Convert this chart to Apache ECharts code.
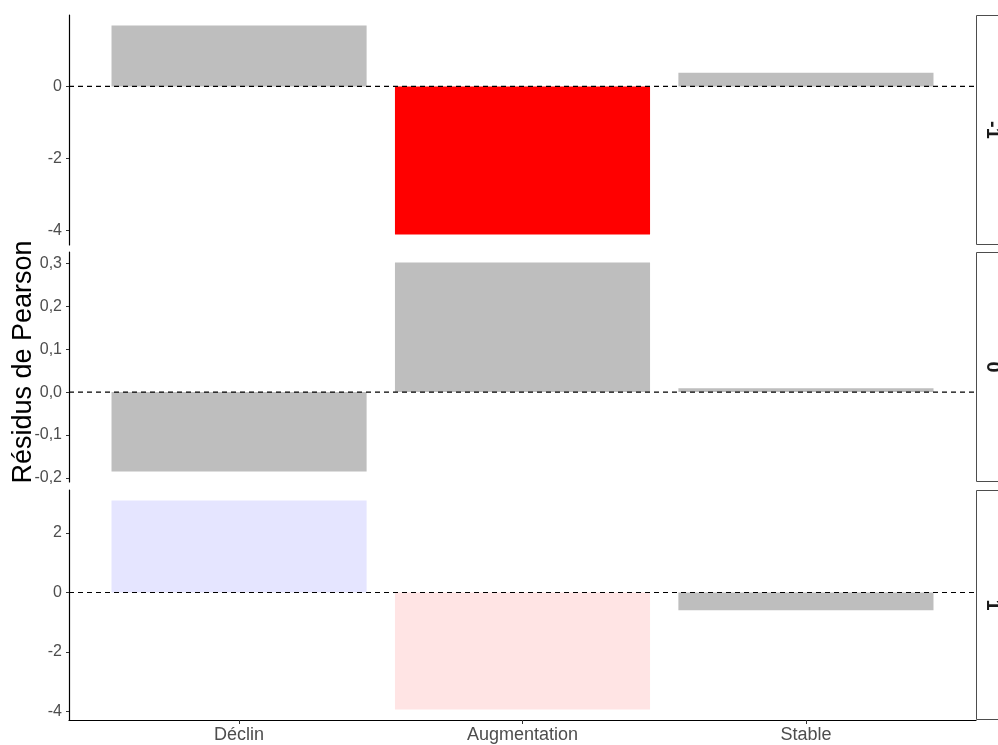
<!DOCTYPE html>
<html>
<head>
<meta charset="utf-8">
<script src="https://cdn.jsdelivr.net/npm/echarts@6/dist/echarts.min.js"></script>
<style>
  html, body { margin: 0; padding: 0; background: #fff; }
  #chart { width: 998px; height: 745px; }
</style>
</head>
<body>
<div id="chart"></div>
<script>
// Pearson residuals by trend category, one facet per group
const categories = ['Déclin', 'Augmentation', 'Stable'];
const facetLabels = ['-1', '0', '1'];

const residualsMinus1 = [1.69, -4.11, 0.38];
const residualsZero = [-0.185, 0.302, 0.009];
const residualsPlus1 = [3.09, -3.93, -0.60];

const fillsMinus1 = ['#BEBEBE', '#FF0000', '#BEBEBE'];
const fillsZero = ['#BEBEBE', '#BEBEBE', '#BEBEBE'];
const fillsPlus1 = ['#E5E5FF', '#FFE4E4', '#BEBEBE'];

const tickValues = [
  [-4, -2, 0],
  [-0.2, -0.1, 0, 0.1, 0.2, 0.3],
  [-4, -2, 0, 2]
];
const tickDecimals = [0, 1, 0];

const panels = [
  { values: residualsMinus1, fills: fillsMinus1 },
  { values: residualsZero, fills: fillsZero },
  { values: residualsPlus1, fills: fillsPlus1 }
];

const FONT = '"Liberation Sans", Arial, sans-serif';
const plotLeft = 69;
const plotRight = 976;
const panelTops = [15, 252, 490];
const panelHeight = 230;

// ggplot-like 5% expansion of each free y scale (bars start at zero)
function expandedRange(vals) {
  const lo = Math.min(0, ...vals);
  const hi = Math.max(0, ...vals);
  const pad = (hi - lo) * 0.05;
  return [lo - pad, hi + pad];
}

const grids = [], xAxes = [], yAxes = [], series = [], graphics = [];

panels.forEach((p, i) => {
  grids.push({
    left: plotLeft,
    top: panelTops[i],
    width: plotRight - plotLeft,
    height: panelHeight,
    containLabel: false
  });
  const isBottom = i === panels.length - 1;
  xAxes.push({
    type: 'value',
    gridIndex: i,
    min: 0.4,
    max: 3.6,
    splitLine: { show: false },
    axisLine: { show: isBottom, onZero: false, lineStyle: { color: '#000', width: 1.2 } },
    axisTick: {
      show: isBottom, length: 4, customValues: [1, 2, 3],
      lineStyle: { color: '#333' }
    },
    axisLabel: {
      show: isBottom,
      customValues: [1, 2, 3],
      formatter: v => categories[Math.round(v) - 1] || '',
      color: '#4D4D4D',
      fontFamily: FONT,
      fontSize: 18,
      margin: 6
    }
  });
  const [ymin, ymax] = expandedRange(p.values);
  yAxes.push({
    type: 'value',
    gridIndex: i,
    min: ymin,
    max: ymax,
    splitLine: { show: false },
    axisLine: { show: true, onZero: false, lineStyle: { color: '#000', width: 1.2 } },
    axisTick: {
      show: true, length: 3, customValues: tickValues[i],
      lineStyle: { color: '#333' }
    },
    axisLabel: {
      customValues: tickValues[i],
      formatter: v => v.toFixed(tickDecimals[i]).replace('.', ','),
      color: '#4D4D4D',
      fontFamily: FONT,
      fontSize: 16,
      margin: 7
    }
  });

  series.push({
    type: 'custom',
    xAxisIndex: i,
    yAxisIndex: i,
    z: 2,
    data: p.values.map((v, k) => ({ value: [k + 1, v], itemStyle: { color: p.fills[k] } })),
    renderItem: (params, api) => {
      const x = api.value(0);
      const y = api.value(1);
      const a = api.coord([x - 0.45, 0]);
      const b = api.coord([x + 0.45, y]);
      return {
        type: 'rect',
        shape: {
          x: a[0],
          y: Math.min(a[1], b[1]),
          width: b[0] - a[0],
          height: Math.abs(b[1] - a[1])
        },
        style: { fill: api.visual('color') }
      };
    }
  });

  // dashed reference line at zero
  series.push({
    type: 'line',
    xAxisIndex: i,
    yAxisIndex: i,
    z: 5,
    symbol: 'none',
    silent: true,
    data: [[0.4, 0], [3.6, 0]],
    lineStyle: { color: '#000', width: 1.2, type: [5, 4] }
  });

  // facet strip on the right
  graphics.push({
    type: 'rect',
    shape: { x: plotRight + 0.5, y: panelTops[i] + 0.5, width: 40, height: panelHeight - 1 },
    style: { fill: '#fff', stroke: '#4D4D4D', lineWidth: 1 },
    z: 10
  });
  graphics.push({
    type: 'text',
    x: 993,
    y: panelTops[i] + panelHeight / 2,
    rotation: -Math.PI / 2,
    style: {
      text: facetLabels[i],
      fontFamily: FONT,
      fontSize: 20,
      fontWeight: 'bold',
      fill: '#1A1A1A',
      align: 'center',
      verticalAlign: 'middle'
    },
    z: 11
  });
});

graphics.push({
  type: 'text',
  x: 24,
  y: 362,
  rotation: Math.PI / 2,
  style: {
    text: 'Résidus de Pearson',
    fontFamily: FONT,
    fontSize: 27,
    fill: '#000',
    align: 'center',
    verticalAlign: 'middle'
  }
});

const chart = echarts.init(document.getElementById('chart'), null, { renderer: 'canvas' });
chart.setOption({
  animation: false,
  backgroundColor: '#fff',
  grid: grids,
  xAxis: xAxes,
  yAxis: yAxes,
  series: series,
  graphic: graphics
});
</script>
</body>
</html>
